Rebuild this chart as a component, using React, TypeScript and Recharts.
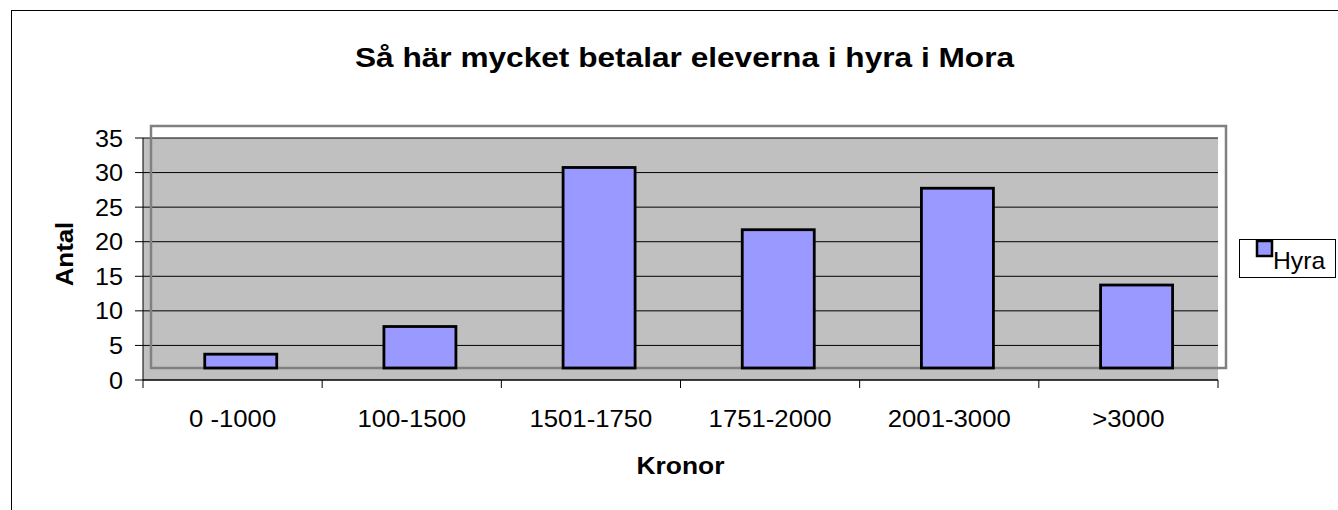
import React from "react";
import { Bar, BarChart, CartesianGrid, Label, Legend, ReferenceArea, XAxis, YAxis } from "recharts";

// Hyra per elev, Mora
const categories = ["0 -1000", "100-1500", "1501-1750", "1751-2000", "2001-3000", ">3000"];
const hyra = [2, 6, 29, 20, 26, 12];
const yTicks = [0, 5, 10, 15, 20, 25, 30, 35];

const TITLE = "Så här mycket betalar eleverna i hyra i Mora";
const X_TITLE = "Kronor";
const Y_TITLE = "Antal";
const SERIES_NAME = "Hyra";

const FONT = '"Liberation Sans", Arial, sans-serif';
const BAR_FILL = "#9999ff";
const WALL = "#c0c0c0";
// old excel look: columns and back wall pushed up/right a bit
const DEPTH_X = 8;
const DEPTH_Y = 12;

const data = categories.map((name, i) => ({ name, hyra: hyra[i] }));

function YTick(p: any) {
  return (
    <text
      transform={`translate(${p.x},${p.y}) scale(1.05,1)`}
      textAnchor="end"
      dy="0.355em"
      fontSize={24}
      fontFamily={FONT}
      fill="#000"
    >
      {p.payload.value}
    </text>
  );
}

function XTick(p: any) {
  const half = p.payload?.offset ?? 1075 / categories.length / 2;
  const last = p.index === categories.length - 1;
  return (
    <g>
      <line x1={p.x - half} x2={p.x - half} y1={p.y - 8} y2={p.y} stroke="#000" />
      {last && <line x1={p.x + half} x2={p.x + half} y1={p.y - 8} y2={p.y} stroke="#000" />}
      <text
        transform={`translate(${p.x},${p.y}) scale(1.05,1)`}
        textAnchor="middle"
        dy={39.5}
        fontSize={24.5}
        fontFamily={FONT}
        fill="#000"
      >
        {p.payload.value}
      </text>
    </g>
  );
}

function DepthBar(p: any) {
  return (
    <rect
      x={p.x + DEPTH_X}
      y={p.y - DEPTH_Y}
      width={p.width}
      height={p.height}
      fill={BAR_FILL}
      stroke="#000"
      strokeWidth={2.8}
    />
  );
}

function BackWall(p: any) {
  return (
    <rect
      x={p.x + DEPTH_X}
      y={p.y - DEPTH_Y}
      width={p.width}
      height={p.height}
      fill="none"
      stroke="#808080"
      strokeWidth={2.5}
    />
  );
}

function LegendBox({ payload }: any) {
  const item = payload?.[0];
  return (
    <svg width={97} height={39} style={{ display: "block", overflow: "visible" }}>
      <rect x={0.5} y={0.5} width={96} height={38} fill="#fff" stroke="#000" />
      <rect x={18} y={2} width={15} height={15} fill={item?.color ?? BAR_FILL} stroke="#000" strokeWidth={2.5} />
      <text transform="translate(34,29.5) scale(1.03,1)" fontSize={24} fontFamily={FONT} fill="#000">
        {item?.value ?? SERIES_NAME}
      </text>
    </svg>
  );
}

export default function App() {
  return (
    <div
      style={{
        position: "relative",
        width: 1338,
        height: 510,
        overflow: "hidden",
        background: "#fff",
        fontFamily: FONT,
      }}
    >
      <style>{`body{margin:0}`}</style>
      <div
        style={{
          position: "absolute",
          left: 11,
          top: 10,
          width: 1400,
          height: 600,
          border: "1px solid #000",
        }}
      />
      <BarChart
        width={1338}
        height={510}
        data={data}
        margin={{ top: 138, right: 120, bottom: 30, left: 0 }}
        barCategoryGap="30%"
        style={{ position: "absolute", left: 0, top: 0 }}
      >
        <CartesianGrid vertical={false} stroke="#000" fill={WALL} fillOpacity={1} />
        <XAxis
          dataKey="name"
          height={100}
          interval={0}
          stroke="#000"
          tickSize={8}
          tickMargin={0}
          tickLine={{ stroke: "none" }}
          tick={<XTick />}
        >
          <Label
            content={(lp: any) => {
              const vb = lp.viewBox || { x: 143, y: 380, width: 1075 };
              return (
                <text
                  transform={`translate(${vb.x + vb.width / 2},${vb.y + 93.5}) scale(1.1,1)`}
                  textAnchor="middle"
                  fontSize={24}
                  fontWeight="bold"
                  fontFamily={FONT}
                  fill="#000"
                >
                  {X_TITLE}
                </text>
              );
            }}
          />
        </XAxis>
        <YAxis
          width={143}
          domain={[0, 35]}
          ticks={yTicks}
          interval={0}
          stroke="#000"
          tickSize={8}
          tickMargin={12}
          tick={<YTick />}
        >
          <Label
            content={(lp: any) => {
              const vb = lp.viewBox || { x: 0, y: 138, height: 242 };
              return (
                <text
                  transform={`translate(${vb.x + 72.5},${vb.y + vb.height / 2 - 5}) rotate(-90) scale(1.1,1)`}
                  textAnchor="middle"
                  fontSize={23.5}
                  fontWeight="bold"
                  fontFamily={FONT}
                  fill="#000"
                >
                  {Y_TITLE}
                </text>
              );
            }}
          />
        </YAxis>
        <ReferenceArea y1={0} y2={35} shape={BackWall} />
        <Legend
          layout="horizontal"
          align="center"
          verticalAlign="middle"
          content={<LegendBox />}
          wrapperStyle={{ left: 1239, top: 239, width: 97, height: 39 }}
        />
        <Bar dataKey="hyra" name={SERIES_NAME} fill={BAR_FILL} shape={DepthBar} isAnimationActive={false} />
      </BarChart>
      <svg
        width={1338}
        height={100}
        style={{ position: "absolute", left: 0, top: 0, pointerEvents: "none" }}
      >
        <text
          transform="translate(684.5,67) scale(1.13,1)"
          textAnchor="middle"
          fontSize={28}
          fontWeight="bold"
          fontFamily={FONT}
          fill="#000"
        >
          {TITLE}
        </text>
      </svg>
    </div>
  );
}
